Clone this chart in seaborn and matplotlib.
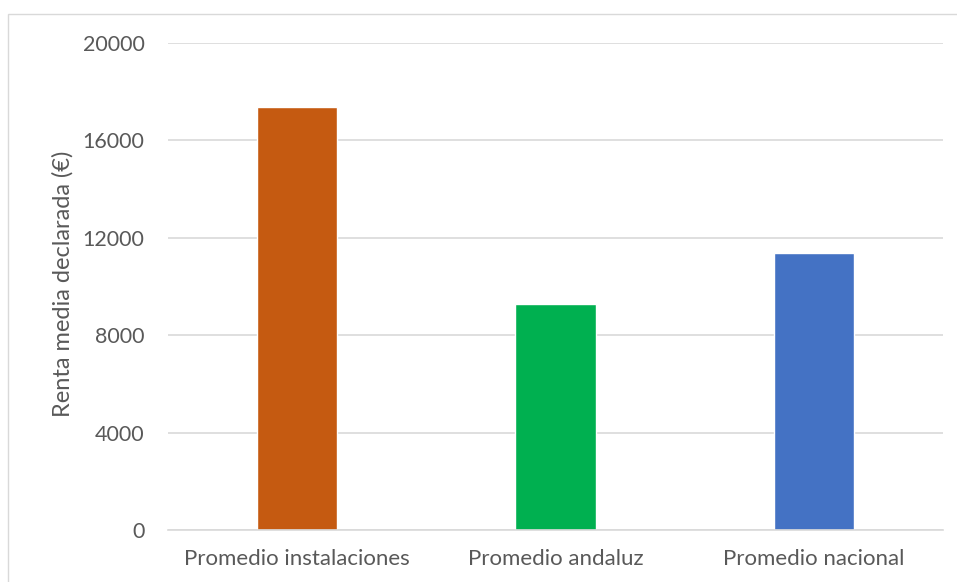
import matplotlib
matplotlib.use("Agg")
import matplotlib.pyplot as plt
import seaborn as sns
import pandas as pd
from matplotlib.patches import Rectangle

categories = ["Promedio instalaciones", "Promedio andaluz", "Promedio nacional"]
values = [17360, 9280, 11370]
colors = ["#C55A11", "#00B050", "#4472C4"]
yticks = [0, 4000, 8000, 12000, 16000, 20000]

sns.set_theme(style="white")
plt.rcParams['font.family'] = ['Lato', 'DejaVu Sans']

df = pd.DataFrame({"cat": categories, "val": values})

fig = plt.figure(figsize=(9.57, 5.82), dpi=100)
ax = fig.add_axes([168/957, 1-530/582, (943-168)/957, (530-43)/582])
sns.barplot(data=df, x="cat", y="val", hue="cat", palette=colors, width=0.31,
            legend=False, ax=ax, saturation=1)

ax.set_ylim(0, 20000)
ax.set_yticks(yticks)
ax.set_yticklabels([str(t) for t in yticks])
ax.yaxis.grid(True, color="#D9D9D9", linewidth=1.2)
ax.set_axisbelow(True)
for s in ["top", "right", "left"]:
    ax.spines[s].set_visible(False)
ax.spines["bottom"].set_color("#D9D9D9")
ax.spines["bottom"].set_linewidth(1.2)
ax.tick_params(axis="both", length=0, labelcolor="#595959")
ax.tick_params(axis="y", pad=17, labelsize=15.5)
ax.tick_params(axis="x", pad=14, labelsize=16)
ax.set_xlabel("")
ax.set_ylabel("Renta media declarada (€)", fontsize=17, color="#595959")
ax.yaxis.set_label_coords(-0.122, 0.505)

fig.add_artist(Rectangle((8/957, -0.05), 1.1, 1 - 14/582 + 0.05, transform=fig.transFigure,
                         fill=False, edgecolor="#D9D9D9", linewidth=1))

fig.savefig("out.png", dpi=100)
